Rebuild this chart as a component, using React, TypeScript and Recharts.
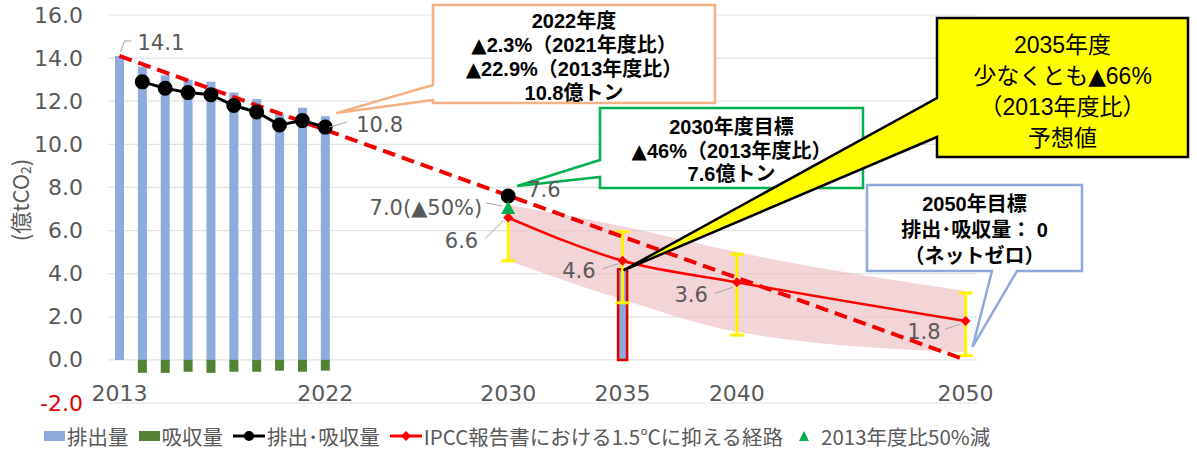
import React from 'react';
import {
  ComposedChart, Bar, Line, Area, XAxis, YAxis, CartesianGrid,
  ErrorBar, LabelList, ReferenceDot, Cell,
} from 'recharts';

const years = [
  2013, 2014, 2015, 2016, 2017, 2018, 2019, 2020, 2021, 2022,
  2023, 2024, 2025, 2026, 2027, 2028, 2029, 2030, 2031, 2032,
  2033, 2034, 2035, 2036, 2037, 2038, 2039, 2040, 2041, 2042,
  2043, 2044, 2045, 2046, 2047, 2048, 2049, 2050,
];
const tickYears = [2013, 2022, 2030, 2035, 2040, 2050];
const yTicks = [-2, 0, 2, 4, 6, 8, 10, 12, 14, 16];

// 実績
const histYears = [2013, 2014, 2015, 2016, 2017, 2018, 2019, 2020, 2021, 2022];
const emissions = [14.1, 13.6, 13.2, 13.0, 12.9, 12.4, 12.1, 11.4, 11.7, 11.3];
const absorption = [null, -0.6, -0.6, -0.55, -0.6, -0.55, -0.55, -0.5, -0.55, -0.5];
const netEmissions = [null, 12.9, 12.6, 12.4, 12.3, 11.8, 11.5, 10.9, 11.1, 10.8];

// 目標・予想値
const targetYear = 2030;
const target2030 = 7.6;
const half2013 = 7.0;
const forecastYear = 2035;
const forecast2035 = 4.2;

// 2013年度→2050年ネットゼロの直線経路
const linearYears = [2013, 2050];
const linearPath = [14.1, 0];

// IPCC 1.5℃経路
const ipccYears = [2030, 2035, 2040, 2050];
const ipccPath = [6.6, 4.6, 3.6, 1.8];
const ipccLow = [4.6, 2.65, 1.15, 0.2];
const ipccHigh = [7.7, 5.95, 4.9, 3.1];
const bandLow = [4.6, 2.8, 1.3, 0.35];
const bandHigh = [7.2, 6.2, 5.0, 3.2];

const pick = (ys: number[], vs: (number | null)[], y: number) => {
  const i = ys.indexOf(y);
  return i < 0 ? null : vs[i];
};

const data = years.map((year) => {
  const p = ipccYears.indexOf(year);
  return {
    year,
    emissions: year === forecastYear ? forecast2035 : pick(histYears, emissions, year),
    absorption: pick(histYears, absorption, year),
    net: year === targetYear ? target2030 : pick(histYears, netEmissions, year),
    half: year === targetYear ? half2013 : null,
    linear: pick(linearYears, linearPath, year),
    ipcc: p < 0 ? null : ipccPath[p],
    err: p < 0 ? null : [ipccPath[p] - ipccLow[p], ipccHigh[p] - ipccPath[p]],
    band: p < 0 ? null : [bandLow[p], bandHigh[p]],
  };
});

const GREY = '#595959';
const NUM_FONT = '"DejaVu Sans", Verdana, sans-serif';
const JP_FONT = '"Noto Sans CJK JP", "Noto Sans", sans-serif';
// latin first keeps the line box compact, CJK glyphs fall back to Noto
const BOX_FONT = '"Liberation Sans", "Noto Sans CJK JP", sans-serif';

// data label placement (offset from the point, leader line points)
const labelSpots: Record<string, { dx: number; dy: number; anchor: string; leader?: number[][] }> = {
  'em-2013': { dx: 18, dy: -13, anchor: 'start', leader: [[1, -4], [5, -15], [12, -15]] },
  'net-2022': { dx: 31, dy: -2, anchor: 'start', leader: [[4, 0], [22, -5]] },
  'net-2030': { dx: 19, dy: -6, anchor: 'start' },
  'half-2030': { dx: -26, dy: -1, anchor: 'end', leader: [[-22, -6], [-6, -3]] },
  'ipcc-2030': { dx: -30, dy: 23, anchor: 'end', leader: [[-23, 21], [-5, 3]] },
  'ipcc-2035': { dx: -27, dy: 10, anchor: 'end', leader: [[-20, 8], [-4, 3]] },
  'ipcc-2040': { dx: -29, dy: 13, anchor: 'end', leader: [[-22, 11], [-4, 5]] },
  'ipcc-2050': { dx: -25, dy: 11, anchor: 'end', leader: [[-20, 8], [-5, 3]] },
};

const makeLabel = (series: string, suffix = '') => (props: any) => {
  const { index, value } = props;
  if (value == null || index == null) return null;
  const spot = labelSpots[`${series}-${data[index].year}`];
  if (!spot) return null;
  const px = props.width != null ? props.x + props.width / 2 : props.x;
  const py = props.y;
  const v = Array.isArray(value) ? value[1] : value;
  return (
    <g>
      {spot.leader && (
        <polyline
          points={spot.leader.map(([a, b]) => `${px + a},${py + b}`).join(' ')}
          fill="none" stroke="#A6A6A6" strokeWidth={1}
        />
      )}
      <text x={px + spot.dx} y={py + spot.dy} textAnchor={spot.anchor as any} dominantBaseline="central"
        fontFamily={NUM_FONT} fontSize={21} fill={GREY}>
        {Number(v).toFixed(1) + suffix}
      </text>
    </g>
  );
};

// ▲ drawn with DejaVu so it keeps its full size
const withTriangles = (t: string) =>
  t.split(/(▲)/).map((part, i) =>
    part === '▲' ? <tspan key={i} fontFamily={NUM_FONT}>▲</tspan> : part);

type Box = { x: number; y: number; w: number; h: number };
type CalloutSpec = {
  tip: [number, number];
  box: Box;
  side: 'left' | 'bottom';
  wedge: [number, number];
  stroke: string;
  fill: string;
  lines: string[];
  firstY: number;
  gap: number;
  fontSize: number;
  bold: boolean;
};

const callout = (spec: CalloutSpec) => (p: any) => {
  const { box, wedge, side } = spec;
  const tx = p.cx + spec.tip[0];
  const ty = p.cy + spec.tip[1];
  const r = box.x + box.w;
  const b = box.y + box.h;
  const cxText = box.x + box.w / 2;
  const d = side === 'left'
    ? `M${box.x},${box.y} H${r} V${b} H${box.x} V${wedge[1]} L${tx},${ty} L${box.x},${wedge[0]} Z`
    : `M${box.x},${box.y} H${r} V${b} H${wedge[1]} L${tx},${ty} L${wedge[0]},${b} H${box.x} Z`;
  return (
    <g>
      <path d={d} fill={spec.fill} stroke={spec.stroke} strokeWidth={2.5} strokeLinejoin="miter" />
      {spec.lines.map((t, i) => (
        <text key={i} x={cxText} y={spec.firstY + i * spec.gap} textAnchor="middle"
          dominantBaseline="central" fontFamily={BOX_FONT}
          fontSize={spec.fontSize} fontWeight={spec.bold ? 700 : 400} fill="#000">
          {withTriangles(t)}
        </text>
      ))}
    </g>
  );
};

const callout2022 = callout({
  tip: [11, -14], box: { x: 433, y: 5, w: 282, h: 98 }, side: 'left', wedge: [85, 100],
  stroke: '#F4B183', fill: '#fff',
  lines: ['2022年度', '▲2.3%（2021年度比）', '▲22.9%（2013年度比）', '10.8億トン'],
  firstY: 21, gap: 24, fontSize: 20, bold: true,
});
const callout2030 = callout({
  tip: [9, -10], box: { x: 600, y: 108, w: 263, h: 80 }, side: 'left', wedge: [160, 177],
  stroke: '#00B050', fill: '#fff',
  lines: ['2030年度目標', '▲46%（2013年度比）', '7.6億トン'],
  firstY: 127, gap: 23.5, fontSize: 20, bold: true,
});
const callout2035 = callout({
  tip: [1, 1], box: { x: 937, y: 18, w: 251, h: 139 }, side: 'left', wedge: [98, 137],
  stroke: '#000', fill: '#FFFF00',
  lines: ['2035年度', '少なくとも▲66%', '（2013年度比）', '予想値'],
  firstY: 45, gap: 31, fontSize: 23, bold: false,
});
const callout2050 = callout({
  tip: [7, -13], box: { x: 867, y: 185, w: 215, h: 86 }, side: 'bottom', wedge: [992, 1017],
  stroke: '#8FAADC', fill: '#fff',
  lines: ['2050年目標', '排出･吸収量： 0', '（ネットゼロ）'],
  firstY: 204, gap: 26, fontSize: 20, bold: true,
});

const YTick = (props: any) => {
  const v = props.payload.value;
  return (
    <text x={props.x} y={props.y} textAnchor="end" dominantBaseline="central"
      fontFamily={NUM_FONT} fontSize={22} fill={v < 0 ? '#E00000' : GREY}>
      {Number(v).toFixed(1)}
    </text>
  );
};

const XTick = (props: any) => {
  const v = props.payload.value;
  if (!tickYears.includes(v)) return null;
  return (
    <text x={props.x} y={props.y - 10} textAnchor="middle" dominantBaseline="central"
      fontFamily={NUM_FONT} fontSize={22} fill={GREY}>
      {v}
    </text>
  );
};

const diamondDot = (p: any) => {
  if (p.cy == null || p.value == null) return <g key={p.index} />;
  const s = 5;
  return (
    <polygon key={p.index} fill="#FF0000"
      points={`${p.cx},${p.cy - s} ${p.cx + s},${p.cy} ${p.cx},${p.cy + s} ${p.cx - s},${p.cy}`} />
  );
};

const triangleDot = (p: any) => {
  if (p.cy == null || p.value == null) return <g key={p.index} />;
  return (
    <polygon key={p.index} fill="#00B050"
      points={`${p.cx},${p.cy - 8} ${p.cx + 7},${p.cy + 5} ${p.cx - 7},${p.cy + 5}`} />
  );
};

const legendItems = [
  { label: '排出量', icon: 'bar', color: '#8FAADC' },
  { label: '吸収量', icon: 'bar', color: '#548235' },
  { label: '排出･吸収量', icon: 'circle', color: '#000' },
  { label: 'IPCC報告書における1.5℃に抑える経路', icon: 'diamond', color: '#FF0000' },
  { label: '2013年度比50%減', icon: 'triangle', color: '#00B050' },
];

const LegendIcon = ({ icon, color }: { icon: string; color: string }) => {
  if (icon === 'bar') {
    return <svg width={21} height={12}><rect x={0} y={1} width={21} height={10} fill={color} /></svg>;
  }
  if (icon === 'triangle') {
    return <svg width={22} height={14}><polygon points="11,2 16,12 6,12" fill={color} /></svg>;
  }
  return (
    <svg width={32} height={14}>
      <line x1={0} y1={7} x2={32} y2={7} stroke={color} strokeWidth={3} />
      {icon === 'circle'
        ? <circle cx={16} cy={7} r={5} fill={color} />
        : <polygon points="16,2 21,7 16,12 11,7" fill={color} />}
    </svg>
  );
};

export default function App() {
  return (
    <div style={{ position: 'absolute', left: 0, top: 0, width: 1197, height: 453, background: '#fff' }}>
      <ComposedChart
        width={1197}
        height={453}
        data={data}
        stackOffset="sign"
        margin={{ top: 15, right: 220, bottom: 0, left: 0 }}
      >
        <CartesianGrid vertical={false} stroke="#E3E3E3" strokeWidth={1.2} />
        <XAxis dataKey="year" type="category" interval={0} height={50}
          axisLine={false} tickLine={false} tickSize={0} tickMargin={0} tick={<XTick />} />
        <YAxis domain={[-2, 16]} ticks={yTicks} width={108} interval={0}
          axisLine={false} tickLine={false} tickSize={0} tickMargin={25} tick={<YTick />}
          label={{
            content: () => (
              <text x={19} y={200} transform="rotate(-90 19 200)" textAnchor="middle"
                dominantBaseline="central" fontFamily={JP_FONT} fontSize={22} fill={GREY}>
                (億tCO<tspan fontSize={14} dy={6}>2</tspan><tspan dy={-6}>)</tspan>
              </text>
            ),
          }} />

        <Area dataKey="band" type="monotone" connectNulls fill="#EBB8BC" fillOpacity={0.6}
          stroke="none" isAnimationActive={false} />
        <Line dataKey="ipcc" type="monotone" connectNulls stroke="none" dot={false}
          legendType="none" isAnimationActive={false}>
          <ErrorBar dataKey="err" width={7} stroke="#FFF200" strokeWidth={3} direction="y" />
        </Line>

        <Bar dataKey="emissions" stackId="s" barSize={9} fill="#8FAADC" isAnimationActive={false}>
          {data.map((d) => (
            <Cell key={d.year} stroke={d.year === forecastYear ? '#E00000' : 'none'} strokeWidth={2.5} />
          ))}
          <LabelList dataKey="emissions" content={makeLabel('em')} />
        </Bar>
        <Bar dataKey="absorption" stackId="s" barSize={9} fill="#548235" isAnimationActive={false} />

        <Line dataKey="linear" connectNulls stroke="#F00000" strokeWidth={4} strokeDasharray="13 7"
          dot={false} isAnimationActive={false} />
        <Line dataKey="ipcc" type="monotone" connectNulls stroke="#FF0000" strokeWidth={2.5}
          dot={diamondDot} activeDot={false} isAnimationActive={false}>
          <LabelList dataKey="ipcc" content={makeLabel('ipcc')} />
        </Line>
        <Line dataKey="net" stroke="#000" strokeWidth={3} dot={{ r: 6, fill: '#000', stroke: '#000' }}
          activeDot={false} isAnimationActive={false}>
          <LabelList dataKey="net" content={makeLabel('net')} />
        </Line>
        <Line dataKey="half" stroke="none" dot={triangleDot} activeDot={false} isAnimationActive={false}>
          <LabelList dataKey="half" content={makeLabel('half', '(▲50%)')} />
        </Line>

        <ReferenceDot x={2022} y={netEmissions[9] as number} ifOverflow="visible" shape={callout2022} />
        <ReferenceDot x={targetYear} y={target2030} ifOverflow="visible" shape={callout2030} />
        <ReferenceDot x={2050} y={linearPath[1]} ifOverflow="visible" shape={callout2050} />
        <ReferenceDot x={forecastYear} y={forecast2035} ifOverflow="visible" shape={callout2035} />
      </ComposedChart>

      <div style={{
        position: 'absolute', left: 44, top: 424, display: 'flex', alignItems: 'center',
        fontFamily: JP_FONT, fontSize: 20.5, color: GREY, whiteSpace: 'nowrap', lineHeight: '24px',
      }}>
        {legendItems.map((it) => (
          <span key={it.label} style={{ display: 'flex', alignItems: 'center', marginRight: 10 }}>
            <LegendIcon icon={it.icon} color={it.color} />
            <span style={{ marginLeft: it.icon === 'triangle' ? 6 : 2 }}>{it.label}</span>
          </span>
        ))}
      </div>
    </div>
  );
}
